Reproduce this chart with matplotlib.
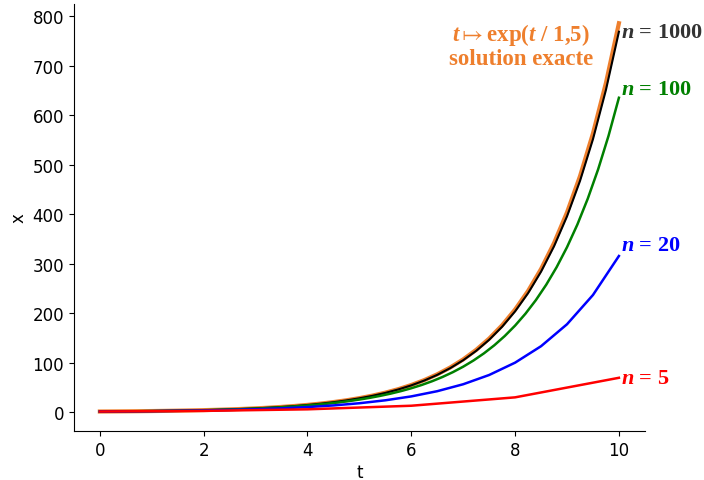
import matplotlib
matplotlib.use("Agg")
import matplotlib.pyplot as plt

# Exact solution t -> exp(t/1.5), sampled every 0.25
t_exact = [0.25 * k for k in range(41)]
x_exact = [1.0, 1.1814, 1.3956, 1.6487, 1.9477, 2.3010, 2.7183, 3.2113, 3.7937, 4.4817,
           5.2945, 6.2547, 7.3891, 8.7291, 10.3123, 12.1825, 14.3919, 17.0020, 20.0855, 23.7282,
           28.0316, 33.1155, 39.1213, 46.2162, 54.5982, 64.4995, 76.1979, 90.0171, 106.3426, 125.6290,
           148.4132, 175.3283, 207.1249, 244.6919, 289.0680, 341.4930, 403.4288, 476.5950, 563.0302, 665.1416,
           785.77]

# Euler, n = 1000 (sampled every 0.25)
t_1000 = t_exact
x_1000 = [1.0, 1.1807, 1.3941, 1.6460, 1.9434, 2.2946, 2.7093, 3.1989, 3.7769, 4.4594,
          5.2652, 6.2167, 7.3401, 8.6664, 10.2326, 12.0816, 14.2648, 16.8425, 19.8861, 23.4797,
          27.7227, 32.7324, 38.6472, 45.6311, 53.8770, 63.6120, 75.1083, 88.6804, 104.706, 123.627,
          145.967, 172.344, 203.486, 240.260, 283.677, 334.940, 395.469, 466.934, 551.314, 650.941,
          768.55]

# Euler, n = 100 (sampled every 0.2)
t_100 = [0.2 * k for k in range(51)]
x_100 = [1.0, 1.13778, 1.29454, 1.47290, 1.67583, 1.90672, 2.16943, 2.46832, 2.80840, 3.19534,
         3.63558, 4.13648, 4.70640, 5.35483, 6.09261, 6.93204, 7.88712, 8.97379, 10.21018, 11.61691,
         13.2174, 15.0385, 17.1104, 19.4679, 22.1501, 25.2019, 28.6742, 32.6248, 37.1198, 42.2341,
         48.0530, 54.6736, 62.2064, 70.7771, 80.5286, 91.6236, 104.2473, 118.6102, 134.9521, 153.5455,
         174.700, 198.770, 226.156, 257.315, 292.767, 333.104, 378.998, 431.216, 490.628, 558.223,
         635.137]

# Euler, n = 20
t_20 = [0.5 * k for k in range(21)]
x_20 = [1.0, 1.33333, 1.77778, 2.37037, 3.16049, 4.21399, 5.61866, 7.49154, 9.98872, 13.3183,
        17.7577, 23.6770, 31.5693, 42.0924, 56.1232, 74.8309, 99.7745, 133.0327, 177.3769, 236.5025,
        315.3367]

# Euler, n = 5
t_5 = [0, 2, 4, 6, 8, 10]
x_5 = [1.0, 2.33333, 5.44444, 12.7037, 29.6420, 69.1646]

plt.rcParams['mathtext.fontset'] = 'custom'
plt.rcParams['mathtext.rm'] = 'Liberation Serif:bold'
plt.rcParams['mathtext.it'] = 'Liberation Serif:italic:bold'
plt.rcParams['mathtext.bf'] = 'Liberation Serif:bold'

fig = plt.figure(figsize=(7.04, 4.81), dpi=100)
ax = fig.add_axes([0.105, 0.102, 0.811, 0.888])

orange = '#ee7f2d'
ax.plot(t_exact, x_exact, color=orange, lw=3)
ax.plot(t_1000, x_1000, color='black', lw=1.5)
ax.plot(t_100, x_100, color='green', lw=1.8)
ax.plot(t_20, x_20, color='blue', lw=1.8)
ax.plot(t_5, x_5, color='red', lw=1.8)

fs = 16
tkw = dict(fontsize=fs, ha='left', va='center', family='Liberation Serif', weight='bold')
ax.text(t_1000[-1] + 0.04, x_1000[-1], r'$n$ = 1000', color='#333333', **tkw)
ax.text(t_100[-1] + 0.04, x_100[-1] + 18, r'$n$ = 100', color='green', **tkw)
ax.text(t_20[-1] + 0.04, x_20[-1] + 22, r'$n$ = 20', color='blue', **tkw)
ax.text(t_5[-1] + 0.04, x_5[-1], r'$n$ = 5', color='red', **tkw)

okw = dict(fontsize=16.5, ha='center', va='center', family='Liberation Serif', weight='bold', color=orange)
ax.text(8.12, 763, r'$t\mapsto$exp($t$ / 1,5)', **okw)
ax.text(8.12, 714, 'solution exacte', **okw)

ax.spines['top'].set_visible(False)
ax.spines['right'].set_visible(False)
ax.set_xlabel('t', fontsize=12, labelpad=3)
ax.set_ylabel('x', fontsize=12)
ax.tick_params(labelsize=12)
ax.set_xticks([0, 2, 4, 6, 8, 10])
ax.set_yticks([0, 100, 200, 300, 400, 500, 600, 700, 800])

fig.savefig('out.png', dpi=100)
